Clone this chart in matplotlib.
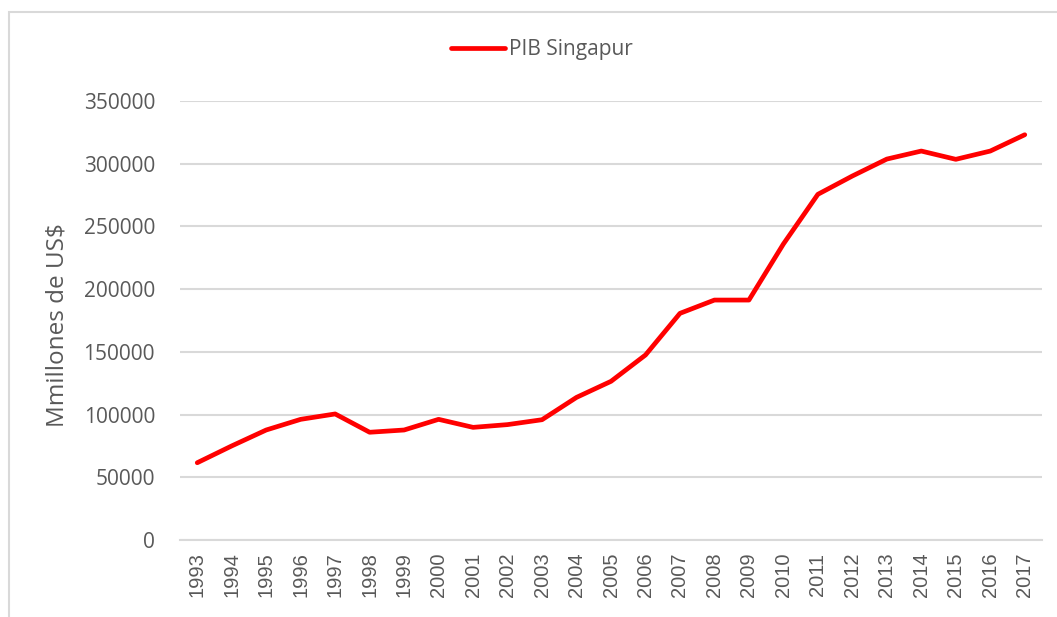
import matplotlib.pyplot as plt
from matplotlib.patches import Rectangle

years = [str(y) for y in range(1993, 2018)]
pib = [61600, 75000, 87700, 96200, 100500, 85900, 87700, 96200, 89800, 92000,
       95900, 113700, 126500, 147500, 180700, 191300, 191300, 236000, 275600,
       290200, 303700, 310100, 303500, 310100, 323100]

gris = '#595959'

fig = plt.figure(figsize=(10.57, 6.17), dpi=100)
ax = fig.add_axes([180 / 1057, 1 - 540 / 617, 862 / 1057, 439 / 617])

# marco gris alrededor de la figura
fig.patches.append(Rectangle((9 / 1057, -0.05), 1.1, 1 - 12 / 617 + 0.05,
                             transform=fig.transFigure, fill=False,
                             edgecolor='#d9d9d9', linewidth=1.5))

x = list(range(len(years)))
ax.plot(x, pib, color='#ff0000', linewidth=3.4, solid_capstyle='round',
        label='PIB Singapur')

ax.set_xlim(-0.5, len(years) - 0.5)
ax.set_ylim(0, 350000)
ax.set_yticks(range(0, 350001, 50000))
ax.set_yticklabels([str(v) for v in range(0, 350001, 50000)],
                   fontfamily='Open Sans', fontsize=15, color=gris)
ax.set_xticks(x)
ax.set_xticklabels(years, rotation=90, fontfamily='Liberation Sans',
                   fontsize=14.5, color=gris)
ax.tick_params(axis='both', length=0)
ax.tick_params(axis='y', pad=18)
ax.tick_params(axis='x', pad=9)

ax.grid(axis='y', color='#d9d9d9', linewidth=1.5)
ax.set_axisbelow(True)
for s in ['top', 'right', 'left']:
    ax.spines[s].set_visible(False)
ax.spines['bottom'].set_color('#d9d9d9')
ax.spines['bottom'].set_linewidth(1.5)

ax.set_ylabel('Mmillones de US$', fontfamily='Open Sans', fontsize=17.5,
              color=gris)
ax.yaxis.set_label_coords(-110 / 862, 0.49)

leg = ax.legend(loc='center', bbox_to_anchor=(542 / 1057, 1 - 50 / 617),
                bbox_transform=fig.transFigure, frameon=False,
                handlelength=2.6, handletextpad=0.2,
                prop={'family': 'Open Sans', 'size': 15})
for t in leg.get_texts():
    t.set_color(gris)

plt.savefig('out.png', dpi=100)
